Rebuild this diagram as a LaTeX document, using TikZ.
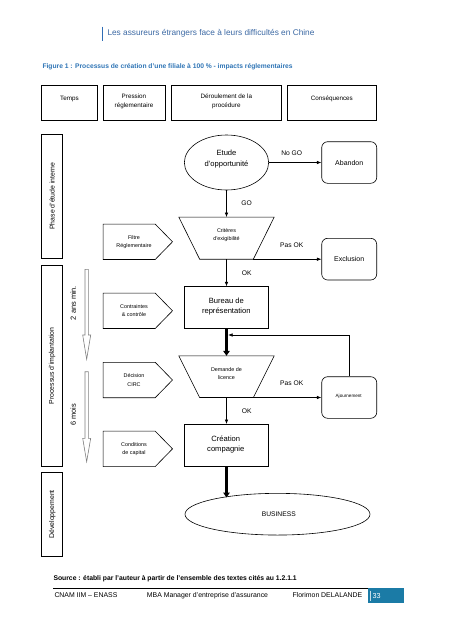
\documentclass[tikz,border=0pt]{standalone}
\usepackage{fontspec}
\setmainfont{Liberation Sans}
\usetikzlibrary{shapes.geometric,arrows.meta,calc}
\definecolor{hdrblue}{HTML}{2F6DB5}
\definecolor{hdrtext}{HTML}{3B68A3}
\definecolor{capblue}{HTML}{2E74B5}
\definecolor{footblue}{HTML}{1B7BA6}
\definecolor{timegray}{HTML}{7F7F7F}
\begin{document}
\begin{tikzpicture}[x=1pt,y=-1pt,
  box/.style={draw, line width=0.6pt, inner sep=0pt},
  ghost/.style={inner sep=0pt},
  rbox/.style={box, rounded corners=6pt},
  hdr/.style={font=\fontsize{6.3}{8.5}\selectfont, align=center, inner sep=0pt},
  maintxt/.style={font=\fontsize{7.6}{10.2}\selectfont, align=center, inner sep=0pt},
  smalltxt/.style={font=\fontsize{5.4}{8.1}\selectfont, align=center, inner sep=0pt},
  tinytxt/.style={font=\fontsize{4.6}{6}\selectfont, inner sep=0pt},
  lab/.style={font=\fontsize{6.7}{8}\selectfont, inner sep=0pt},
  side/.style={font=\fontsize{6.9}{8}\selectfont, rotate=90, inner sep=0pt},
  timetxt/.style={font=\fontsize{7.4}{8}\selectfont, rotate=90, inner sep=0pt},
  arr/.style={-{Latex[length=4.5pt,width=3.5pt]}, line width=0.6pt},
  bigarr/.style={-{Triangle[length=5pt,width=6.5pt]}, line width=2.6pt},
  timearr/.style={draw=timegray, line width=0.6pt, fill=white},
  pent/.style={ghost, minimum width=69pt, minimum height=35pt}
]
\useasboundingbox (0,0) rectangle (453,640);

% page header
\draw[hdrblue, line width=1.5pt] (102.3,26.7) -- (102.3,40.7);
\node[anchor=west, text=hdrtext, font=\fontsize{8.3}{10}\selectfont, inner sep=0pt] (title) at (107.3,33.7) {Les assureurs étrangers face à leurs difficultés en Chine};
\node[anchor=west, text=capblue, font=\bfseries\fontsize{6.7}{8}\selectfont, inner sep=0pt] (caption) at (42.3,67) {Figure 1 : Processus de création d’une filiale à 100 \% - impacts réglementaires};

% column headers
\node[box, minimum width=55.6pt, minimum height=34.7pt] (temps) at (69.5,102.65) {};
\node[box, minimum width=62pt, minimum height=34.7pt] (press) at (134,102.65) {};
\node[box, minimum width=109.3pt, minimum height=34.7pt] (deroul) at (226.35,102.65) {};
\node[box, minimum width=88.3pt, minimum height=34.7pt] (conseq) at (331.85,102.65) {};
\node[hdr] (tempsL) at (69.5,99) {Temps};
\node[hdr] (pressL) at (134,101.5) {Pression\\réglementaire};
\node[hdr] (deroulL) at (226.35,101.5) {Déroulement de la\\procédure};
\node[hdr] (conseqL) at (331.85,99) {Conséquences};

% phase boxes
\node[box, minimum width=21pt, minimum height=124.3pt] (ph1) at (52.2,196.15) {};
\node[box, minimum width=21pt, minimum height=200.3pt] (ph2) at (52.2,365.85) {};
\node[box, minimum width=21pt, minimum height=83.3pt] (ph3) at (52.2,514.35) {};
\node[side] (ph1L) at (ph1) {Phase d’étude interne};
\node[side] (ph2L) at (ph2) {Processus d’implantation};
\node[side] (ph3L) at (ph3) {Développement};

% time arrows
\draw[timearr] (85,269.3) -- (88.3,269.3) -- (88.3,335) -- (90.7,335) -- (86.65,359.3) -- (82.7,335) -- (85,335) -- cycle;
\draw[timearr] (85,371.7) -- (88.3,371.7) -- (88.3,438.3) -- (90.7,438.3) -- (86.65,461.7) -- (82.7,438.3) -- (85,438.3) -- cycle;
\node[timetxt] (t1) at (73.3,303) {2 ans min.};
\node[timetxt] (t2) at (73.3,415) {6 mois};

% regulatory pressure pentagons
\foreach \nm/\yy/\txt in {filtre/241.8/{Filtre\\Réglementaire}, contr/310.8/{Contraintes\\\& contrôle}, decis/380/{Décision\\CIRC}, cond/448.85/{Conditions\\de capital}}{
  \node[pent] (\nm) at (137.8,\yy) {};
  \draw[line width=0.6pt] (\nm.north west) -- ([xshift=-17.3pt]\nm.north east) -- (\nm.east) -- ([xshift=-17.3pt]\nm.south east) -- (\nm.south west) -- cycle;
  \node[smalltxt] (\nm L) at (134,\yy) {\txt};
}

% main flow
\node[box, ellipse, minimum width=84.3pt, minimum height=55pt] (etude) at (226.5,162.5) {};
\node[maintxt] (etudeL) at (226.5,159) {Etude\\d’opportunité};

\node[ghost, minimum width=95pt, minimum height=41.7pt] (crit) at (226.5,238.15) {};
\draw[line width=0.6pt] (crit.north west) -- (crit.north east) -- ([xshift=-20.85pt]crit.south east) coordinate (critbr) -- ([xshift=20.85pt]crit.south west) -- cycle;
\node[smalltxt] (critL) at (226.5,235.5) {Critères\\d’exigibilité};

\node[box, minimum width=84pt, minimum height=41.6pt] (bureau) at (226.3,307.5) {};
\node[maintxt] (bureauL) at (226.3,306.5) {Bureau de\\représentation};

\node[ghost, minimum width=95pt, minimum height=41.3pt] (dem) at (226.5,376.65) {};
\draw[line width=0.6pt] (dem.north west) -- (dem.north east) -- ([xshift=-20.85pt]dem.south east) coordinate (dembr) -- ([xshift=20.85pt]dem.south west) -- cycle;
\node[smalltxt] (demL) at (226.5,374) {Demande de\\licence};

\node[box, minimum width=84pt, minimum height=41.7pt] (crea) at (225.8,445.15) {};
\node[maintxt] (creaL) at (225.8,444.5) {Création\\compagnie};

\node[box, ellipse, minimum width=185pt, minimum height=41.7pt] (bus) at (277.5,514.2) {};
\node[font=\fontsize{6.7}{8}\selectfont, inner sep=0pt] (busL) at (278.8,514.2) {BUSINESS};
\coordinate (busin) at (226.5,497.5);

% consequences
\node[rbox, minimum width=55pt, minimum height=41.6pt] (aband) at (349.2,162.5) {};
\node[maintxt, font=\fontsize{7}{8}\selectfont] (abandL) at (aband) {Abandon};
\node[rbox, minimum width=55pt, minimum height=41.7pt] (excl) at (349.2,259.15) {};
\node[maintxt, font=\fontsize{7}{8}\selectfont] (exclL) at (excl) {Exclusion};
\node[rbox, minimum width=55pt, minimum height=41.6pt] (ajour) at (349.2,397.5) {};
\node[tinytxt] (ajourL) at (348.7,396.5) {Ajournement};

% connectors
\draw[arr] (etude.east) -- (aband.west);
\draw[arr] (etude.south) -- (crit.north -| etude.south);
\draw[arr] (critbr) -- (critbr -| excl.west);
\draw[arr] (crit.south -| etude.south) -- (bureau.north -| etude.south);
\draw[bigarr] (bureau.south -| etude.south) -- (dem.north -| etude.south);
\draw[arr] (dembr) -- (dembr -| ajour.west);
\draw[arr] (dem.south -| etude.south) -- (crea.north -| etude.south);
\draw[bigarr] (crea.south -| etude.south) -- (busin);
\coordinate (fbcorner) at (349.2,335);
\draw[arr] (ajour.north) -- (fbcorner) -- ([xshift=1.6pt]fbcorner -| etude.south);

% connector labels
\node[lab] (nogo) at (291.7,152.7) {No GO};
\node[lab] (go) at (246.7,203.3) {GO};
\node[lab] (pasok1) at (291.7,245) {Pas OK};
\node[lab] (ok1) at (246.7,272.7) {OK};
\node[lab] (pasok2) at (291.7,383.3) {Pas OK};
\node[lab] (ok2) at (246.7,411) {OK};

% source and footer
\node[anchor=west, font=\bfseries\fontsize{6.8}{8}\selectfont, inner sep=0pt] (source) at (53.3,578.3) {Source : établi par l’auteur à partir de l’ensemble des textes cités au 1.2.1.1};
\draw[line width=0.8pt] (53.3,588.3) -- (368.3,588.3);
\fill[footblue] (368.3,588.3) rectangle (404,603.3);
\draw[white!75!footblue, line width=0.5pt] (370,590.5) -- (370,600.5);
\node[anchor=west, text=white, font=\fontsize{7.2}{8}\selectfont, inner sep=0pt] (page) at (372.5,595.8) {33};
\node[anchor=west, font=\fontsize{6.9}{8}\selectfont, inner sep=0pt] (f1) at (54.3,595.5) {CNAM IIM – ENASS};
\node[anchor=west, font=\fontsize{6.9}{8}\selectfont, inner sep=0pt] (f2) at (146.7,595.5) {MBA Manager d’entreprise d’assurance};
\node[anchor=west, font=\fontsize{6.9}{8}\selectfont, inner sep=0pt] (f3) at (292.3,595.5) {Florimon DELALANDE};
\end{tikzpicture}
\end{document}
